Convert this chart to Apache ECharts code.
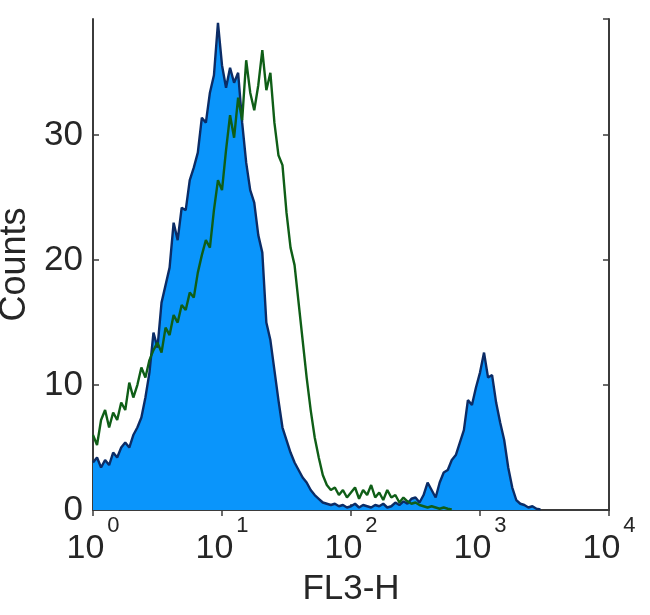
<!DOCTYPE html>
<html>
<head>
<meta charset="utf-8">
<style>
  html, body { margin: 0; padding: 0; background: #ffffff; }
  #chart { width: 650px; height: 615px; }
</style>
<script src="https://cdn.jsdelivr.net/npm/echarts@6/dist/echarts.min.js"></script>
</head>
<body>
<div id="chart"></div>
<script>
// Histogram channels: one bin every 1/32 of a decade on FL3-H, starting at 10^0
const channelStepDecades = 1 / 32;

// Filled (blue) histogram counts, bin 0 .. 111
const blueCounts = [
  3.8, 4.2, 3.4, 4.0, 3.6, 4.6, 4.2, 5.0, 5.4, 5.0,
  6.0, 6.6, 7.4, 9.0, 11.0, 14.2, 13.0, 16.6, 18.0, 19.4,
  23.0, 21.6, 24.2, 24.0, 26.4, 27.4, 28.6, 31.4, 31.0, 33.4,
  34.8, 39.0, 35.6, 33.8, 35.4, 34.2, 35.0, 31.0, 27.8, 25.6,
  24.6, 22.0, 20.6, 15.0, 13.6, 11.2, 8.8, 6.6, 5.6, 4.6,
  3.8, 3.2, 2.6, 2.2, 1.6, 1.2, 0.9, 0.6, 0.5, 0.4,
  0.5, 0.3, 0.4, 0.2, 0.3, 0.5, 0.2, 0.4, 0.3, 0.2,
  0.4, 0.3, 0.5, 0.2, 0.3, 0.6, 0.4, 0.7, 0.5, 0.9,
  1.0, 0.6, 1.2, 2.2, 1.6, 1.0, 2.2, 3.0, 3.2, 4.0,
  4.4, 5.4, 6.4, 8.8, 8.4, 9.8, 11.0, 12.6, 10.6, 10.8,
  8.6, 7.0, 5.6, 3.4, 1.8, 0.8, 0.5, 0.4, 0.2, 0.3,
  0.1, 0.05
];

// Open (green) histogram counts, bin 0 .. 89
const greenCounts = [
  6.0, 5.2, 7.2, 8.0, 6.6, 7.8, 7.2, 8.6, 8.0, 10.2,
  9.0, 10.0, 11.4, 10.6, 12.0, 12.8, 13.4, 12.6, 14.6, 14.0,
  15.6, 15.0, 16.4, 16.0, 17.4, 17.0, 19.0, 20.4, 21.6, 21.0,
  24.0, 26.4, 25.6, 28.8, 31.6, 29.8, 33.0, 31.2, 36.0, 33.4,
  32.0, 34.0, 36.8, 33.6, 35.0, 31.0, 28.4, 27.6, 23.8, 21.0,
  19.6, 16.6, 13.6, 10.6, 8.0, 5.8, 4.2, 2.8, 2.0, 1.6,
  1.8, 1.2, 1.6, 1.0, 1.4, 1.8, 0.9, 1.6, 1.2, 2.0,
  1.0, 1.4, 0.8, 1.6, 1.0, 1.2, 0.6, 1.0, 0.7, 0.5,
  0.6, 0.4, 0.3, 0.2, 0.3, 0.2, 0.1, 0.2, 0.1, 0.05
];

// Axis ticks
const xTickExponents = [0, 1, 2, 3, 4];
const yTickValues = [0, 10, 20, 30];
const yMaxCount = 39.3;

const toPairs = counts => counts.map((c, i) => [Math.pow(10, i * channelStepDecades), c]);

const chart = echarts.init(document.getElementById('chart'), null, { renderer: 'canvas' });

const frameColor = '#3b3b3b';
const textColor = '#262626';
const fontFam = '"Liberation Sans", Arial, Helvetica, sans-serif';

chart.setOption({
  backgroundColor: '#ffffff',
  animation: false,
  grid: { left: 93, right: 41, top: 19, bottom: 105, containLabel: false, outerBoundsMode: 'none' },
  xAxis: [
    {
      type: 'log', logBase: 10, min: 1, max: 10000, interval: 1,
      position: 'bottom',
      name: 'FL3-H', nameLocation: 'middle', nameGap: 62,
      nameTextStyle: { fontSize: 35, color: textColor, fontFamily: fontFam },
      axisLine: { show: true, lineStyle: { color: frameColor, width: 2 } },
      axisTick: { show: true, inside: true, length: 6, lineStyle: { color: frameColor, width: 1.5 } },
      minorTick: { show: false },
      splitLine: { show: false },
      axisLabel: {
        show: true, margin: 5, color: textColor,
        showMinLabel: true, showMaxLabel: true,
        formatter: function (v) {
          const e = Math.round(Math.log10(v));
          if (xTickExponents.indexOf(e) < 0) return '';
          return '{b|10}{s|' + e + '}';
        },
        rich: {
          b: { fontSize: 34, lineHeight: 34, fontFamily: fontFam, color: textColor, padding: [33, 0, 0, 0] },
          s: { fontSize: 22, lineHeight: 22, fontFamily: fontFam, color: textColor, verticalAlign: 'top', padding: [0, 0, 0, 3] }
        }
      }
    },
    {
      type: 'log', logBase: 10, min: 1, max: 10000, interval: 1,
      position: 'top',
      axisLine: { show: true, lineStyle: { color: frameColor, width: 2 } },
      axisTick: { show: true, inside: true, length: 6, lineStyle: { color: frameColor, width: 1.5 } },
      axisLabel: { show: false },
      splitLine: { show: false }
    }
  ],
  yAxis: [
    {
      type: 'value', min: 0, max: yMaxCount, interval: 10,
      position: 'left',
      name: 'Counts', nameLocation: 'middle', nameGap: 53,
      nameTextStyle: { fontSize: 36, color: textColor, fontFamily: fontFam },
      axisLine: { show: true, lineStyle: { color: frameColor, width: 2 } },
      axisTick: { show: true, inside: true, length: 6, lineStyle: { color: frameColor, width: 1.5 } },
      splitLine: { show: false },
      axisLabel: {
        show: true, margin: 10, fontSize: 35, color: textColor, fontFamily: fontFam,
        showMaxLabel: false,
        formatter: function (v) { return yTickValues.indexOf(v) >= 0 ? String(v) : ''; }
      }
    },
    {
      type: 'value', min: 0, max: yMaxCount, interval: 10,
      position: 'right',
      axisLine: { show: true, lineStyle: { color: frameColor, width: 2 } },
      axisTick: { show: true, inside: true, length: 6, lineStyle: { color: frameColor, width: 1.5 } },
      axisLabel: { show: false },
      splitLine: { show: false }
    }
  ],
  series: [
    {
      name: 'filled',
      type: 'line',
      xAxisIndex: 0, yAxisIndex: 0,
      data: toPairs(blueCounts),
      symbol: 'none',
      smooth: false,
      lineStyle: { color: '#0b2c66', width: 2.4 },
      areaStyle: { color: '#0a95fb', opacity: 1 },
      z: 2
    },
    {
      name: 'open',
      type: 'line',
      xAxisIndex: 0, yAxisIndex: 0,
      data: toPairs(greenCounts),
      symbol: 'none',
      smooth: false,
      lineStyle: { color: '#0f5e17', width: 2.4 },
      z: 3
    }
  ]
});
</script>
</body>
</html>
